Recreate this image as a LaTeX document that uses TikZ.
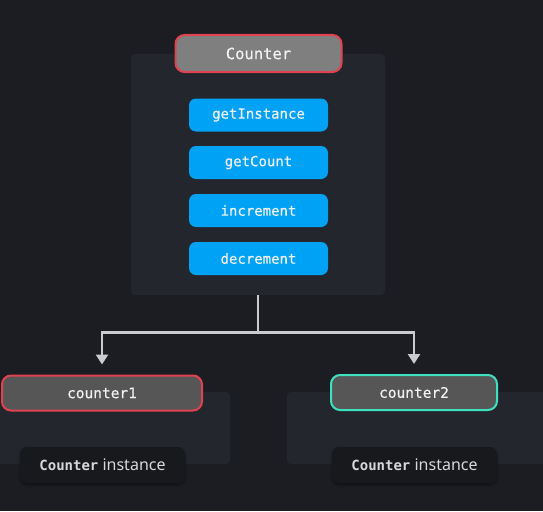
\documentclass[tikz,border=0pt]{standalone}
\usepackage{fontspec}
\setmainfont{Noto Sans}
\setmonofont{DejaVu Sans Mono}
\newfontfamily\monomed[FakeBold=0.35]{DejaVu Sans Mono}
\usetikzlibrary{arrows.meta,shadows.blur}
\definecolor{bg}{HTML}{1C1D22}
\definecolor{panelc}{HTML}{23262D}
\definecolor{labelc}{HTML}{18191D}
\definecolor{hdrfill}{HTML}{7F7F7F}
\definecolor{redb}{HTML}{E0424F}
\definecolor{tealb}{HTML}{3EE0C0}
\definecolor{boxfill}{HTML}{565656}
\definecolor{bluec}{HTML}{00A2F5}
\definecolor{linec}{HTML}{CACACF}
\definecolor{txt}{HTML}{F2F2F2}
\definecolor{ltxt}{HTML}{D8D8DC}
\tikzset{
  panelbox/.style={fill=panelc, rounded corners=4pt, draw=none},
  hdrbox/.style={fill=hdrfill, draw=redb, line width=2pt, rounded corners=9pt,
    minimum width=166pt, minimum height=37pt, text=txt, font=\monomed\fontsize{15.5}{18}\selectfont, inner sep=0pt},
  methbox/.style={fill=bluec, draw=none, rounded corners=7pt,
    minimum width=139pt, minimum height=33pt, text=txt, font=\monomed\fontsize{14}{16}\selectfont, inner sep=0pt},
  instbox/.style={fill=boxfill, line width=2pt, rounded corners=9pt,
    minimum height=35pt, text=txt, font=\monomed\fontsize{14.5}{17}\selectfont, inner sep=0pt},
  lblbox/.style={fill=labelc, rounded corners=7pt, minimum width=165pt, minimum height=36pt,
    inner sep=0pt, text=ltxt, font=\fontsize{16}{18}\selectfont,
    blur shadow={shadow xshift=0pt, shadow yshift=-2pt, shadow blur steps=6, shadow opacity=40}},
  arr/.style={draw=linec, line width=2.6pt, -{Triangle[width=12pt,length=10pt]}, shorten >=10pt},
}
\begin{document}
\begin{tikzpicture}[x=1pt,y=-1pt]
\fill[bg] (0,0) rectangle (543,511);
\useasboundingbox (0,0) rectangle (543,511);
% panels
\path[panelbox] (131,54) rectangle (385,295);
\node[inner sep=0pt, minimum width=254pt, minimum height=241pt] (panel) at (258,174.5) {};
\path[panelbox] (-20,392) rectangle (230,464);
\path[panelbox] (287,392) rectangle (560,464);
% header
\node[hdrbox] (hdr) at (258.5,53.5) {Counter};
% methods
\node[methbox] (m1) at (258.5,115) {getInstance};
\node[methbox] (m2) at (258.5,162.5) {getCount};
\node[methbox] (m3) at (258.5,210.5) {increment};
\node[methbox] (m4) at (258.5,258.5) {decrement};
% instances
\node[instbox, draw=redb, minimum width=200pt] (c1) at (102,393) {counter1};
\node[instbox, draw=tealb, minimum width=166pt] (c2) at (414,392.5) {counter2};
% labels
\node[lblbox] (l1) at (102.5,465) {{\ttfamily\bfseries\fontsize{14}{16}\selectfont Counter} instance};
\node[lblbox] (l2) at (414.5,465) {{\ttfamily\bfseries\fontsize{14}{16}\selectfont Counter} instance};
% connectors
\draw[arr] (panel.south) -- ++(0,37) -| (c1.north);
\draw[arr] (panel.south) -- ++(0,37) -| (c2.north);
\end{tikzpicture}
\end{document}
